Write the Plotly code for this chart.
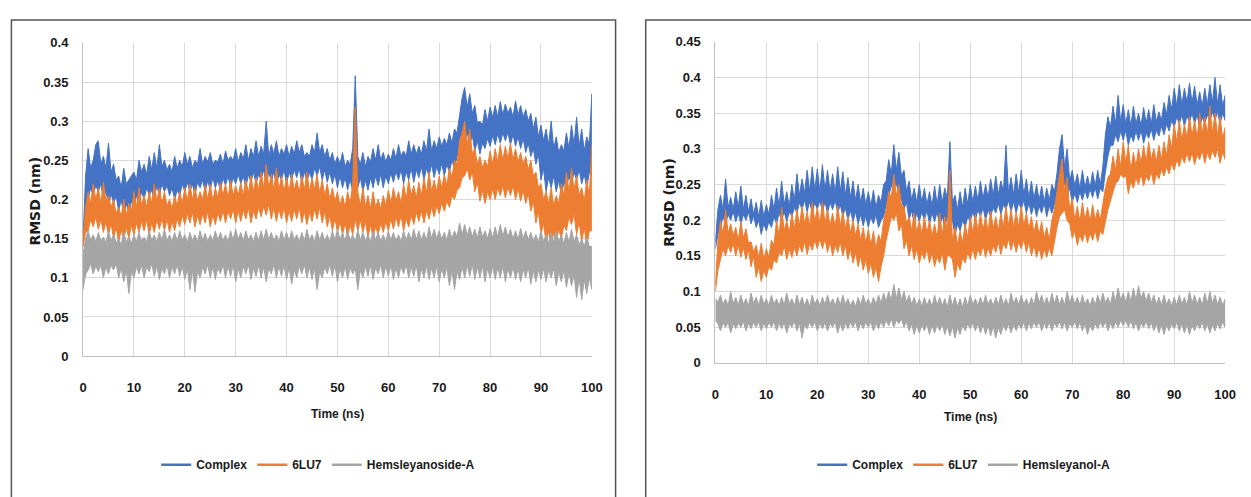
import plotly.graph_objects as go

W, H = 1251, 497

# ---------------- DATA ----------------
# Upper / lower edge of each RMSD trace, every 0.5 ns (values in pm = 0.001 nm)
time_ns = [i * 0.5 for i in range(201)]

left_complex_hi = [
    150,230,265,240,250,270,275,245,255,240,272,235,245,225,230,215,240,220,225,230,
    235,225,250,235,245,232,255,238,260,240,270,242,250,238,245,235,255,240,250,242,
    260,245,255,240,250,245,265,245,255,248,260,245,250,248,258,245,262,250,255,250,
    265,248,260,252,270,250,265,255,275,255,268,258,300,255,270,258,275,255,265,258,
    270,255,268,258,275,260,270,255,260,255,270,260,285,260,270,255,265,250,260,245,
    255,245,260,242,250,245,265,358,255,245,260,242,255,248,265,250,270,250,260,248,
    258,250,265,252,270,255,262,255,275,258,270,258,268,258,275,262,290,262,275,265,
    280,268,278,270,285,272,290,285,310,330,343,318,335,310,320,298,300,295,315,300,
    318,305,320,305,325,308,322,310,318,305,326,308,320,305,315,300,310,290,305,280,
    295,275,290,270,300,265,280,260,270,262,285,265,295,270,305,268,290,262,280,270,
    335]
left_complex_lo = [
    140,185,200,215,205,218,210,220,200,212,190,208,195,205,185,200,180,195,182,198,
    190,205,195,210,200,215,205,212,200,218,205,220,210,218,205,215,200,212,205,220,
    210,222,210,220,205,222,215,225,210,224,212,228,215,225,210,228,218,230,215,228,
    220,232,220,230,215,232,222,235,220,232,225,238,220,235,222,236,218,232,225,238,
    220,235,225,238,228,240,220,236,222,235,225,240,230,242,225,238,222,235,220,232,
    215,230,215,228,212,226,210,225,215,228,210,225,212,228,215,230,218,232,215,230,
    220,234,222,236,225,238,220,236,225,240,222,238,228,242,225,240,230,245,228,242,
    232,246,230,245,235,250,240,255,260,272,275,285,270,282,262,275,258,272,265,278,
    268,282,270,284,272,285,275,286,270,283,268,280,265,278,260,272,255,265,245,258,
    225,240,210,228,215,230,210,225,205,222,215,230,220,235,225,238,220,232,215,235,
    230]
left_6lu7_hi = [
    150,190,210,195,220,200,215,195,222,198,205,190,200,182,190,178,200,180,195,185,
    210,190,215,192,205,190,210,195,220,198,215,195,210,192,200,188,205,192,210,195,
    215,198,220,200,215,198,210,200,218,200,220,198,215,202,222,205,220,202,225,205,
    218,205,222,205,225,208,230,210,228,212,235,215,245,215,232,212,240,212,230,210,
    228,210,232,212,225,210,230,212,235,210,228,212,232,208,225,205,220,200,215,198,
    210,192,205,190,210,195,220,318,210,192,215,190,205,188,210,190,200,188,205,192,
    212,195,215,198,210,195,220,200,225,205,218,202,222,205,228,208,235,210,225,210,
    230,215,232,218,240,228,250,245,275,285,300,270,290,258,265,245,255,240,250,242,
    262,245,265,248,270,250,268,252,272,250,265,248,260,245,255,238,250,230,235,215,
    220,200,210,195,215,192,205,195,220,205,235,210,240,212,230,205,215,198,225,205,
    270]
left_6lu7_lo = [
    140,158,160,175,165,178,162,175,158,172,155,170,150,165,145,162,148,165,150,168,
    155,170,158,172,160,175,155,170,158,174,162,176,160,175,158,172,160,176,165,180,
    168,182,170,184,165,180,168,182,170,185,165,180,168,183,172,186,170,185,175,188,
    170,186,172,187,175,190,170,186,175,190,178,192,180,194,175,190,172,188,175,190,
    170,186,172,188,175,190,170,185,168,184,172,188,175,190,170,185,165,180,160,176,
    158,172,155,170,152,168,155,175,160,174,158,172,152,168,150,166,155,170,158,172,
    160,175,162,178,165,180,160,176,165,180,168,184,172,186,170,186,175,190,178,192,
    182,196,185,198,190,205,200,212,215,228,230,240,225,235,210,222,198,212,195,210,
    200,214,200,215,205,218,202,216,205,218,200,214,198,212,195,208,185,198,170,185,
    155,170,145,160,140,158,145,162,150,168,160,178,168,182,155,172,145,165,140,160,
    160]
left_ligand_hi = [
    130,150,160,148,155,146,158,147,152,145,160,147,155,145,150,142,158,146,152,144,
    155,146,158,147,152,146,160,148,155,146,158,148,162,147,155,146,158,147,160,148,
    155,145,158,147,155,146,160,148,157,146,155,147,160,148,158,147,155,146,160,148,
    162,149,158,147,160,148,155,146,158,147,160,148,162,149,158,147,155,146,160,148,
    158,147,160,148,155,146,158,147,162,148,155,146,160,148,158,147,155,146,160,148,
    162,149,158,147,160,148,155,146,162,148,158,147,155,146,160,148,158,147,155,146,
    160,148,158,147,155,146,160,148,158,148,162,149,160,148,158,148,165,150,162,150,
    160,149,158,148,162,150,160,152,170,155,168,154,165,152,162,151,165,152,160,150,
    163,151,165,152,168,153,165,152,162,150,160,149,163,150,160,148,158,147,155,145,
    160,146,155,144,158,145,160,146,155,143,158,145,162,146,155,142,150,140,152,140,
    140]
left_ligand_lo = [
    85,105,110,118,105,115,108,116,100,114,105,116,110,118,100,112,95,110,80,108,
    100,114,105,116,100,114,108,118,102,115,98,112,105,116,100,114,105,117,102,115,
    98,112,85,110,82,108,100,114,105,117,100,114,98,113,105,117,100,115,102,116,
    95,112,100,115,105,117,98,113,102,116,100,114,95,112,105,117,100,115,102,116,
    98,113,92,110,100,115,105,117,100,114,98,112,85,108,100,114,105,117,102,116,
    95,112,100,115,98,113,105,112,85,110,100,115,102,116,98,113,105,117,100,115,
    102,116,98,113,100,115,105,117,100,114,102,116,95,112,100,115,98,113,100,115,
    95,112,100,114,90,110,85,108,98,114,100,116,102,117,98,114,100,115,95,112,
    100,115,98,113,100,115,95,112,100,114,98,112,95,111,100,114,92,110,95,111,
    98,112,95,110,100,112,90,108,95,110,88,106,90,104,75,100,72,98,80,100,
    85]

right_complex_hi = [
    170,215,235,215,258,218,232,215,240,218,248,215,235,212,230,208,225,205,228,205,
    222,208,235,215,245,220,255,222,240,220,250,228,265,235,258,238,270,240,275,242,
    272,240,278,242,270,240,265,238,275,240,268,235,260,232,255,228,250,225,245,222,
    240,220,242,218,235,225,250,255,285,265,306,270,295,262,270,240,255,228,245,225,
    250,225,245,222,240,220,248,222,250,225,245,230,310,225,235,215,240,218,245,222,
    250,225,248,228,255,230,250,232,258,235,262,236,255,240,305,238,260,236,265,238,
    270,235,258,232,255,230,250,228,248,226,245,228,250,240,265,300,320,275,300,255,
    270,248,265,245,270,246,262,245,268,248,270,250,275,320,345,330,360,335,375,338,
    362,335,355,332,360,335,350,332,358,336,355,335,362,338,352,340,365,348,375,355,
    385,360,390,362,385,365,392,365,388,362,380,360,385,362,390,365,400,362,390,360,
    375]
right_complex_lo = [
    160,180,190,205,195,208,200,212,198,210,195,208,200,212,195,206,190,200,180,195,
    185,198,190,205,195,210,200,212,198,212,205,218,210,225,215,228,212,226,210,225,
    215,228,212,226,210,225,215,228,210,222,205,218,200,214,198,212,195,208,192,206,
    190,205,195,208,190,200,205,222,235,248,245,252,235,230,215,225,200,214,195,210,
    198,212,200,214,195,210,198,212,192,206,190,205,200,200,178,195,185,200,190,205,
    198,212,200,215,205,218,200,215,205,218,210,224,208,222,215,228,212,226,210,225,
    215,228,210,224,208,222,205,220,210,224,205,220,210,222,230,245,250,252,235,245,
    225,238,225,240,228,242,230,244,232,246,230,245,240,268,290,305,305,320,310,325,
    312,326,305,320,310,325,312,326,308,322,315,328,312,326,318,332,320,335,325,340,
    330,345,335,348,332,346,338,350,335,348,330,345,335,348,338,352,340,352,335,350,
    340]
right_6lu7_hi = [
    110,170,200,180,215,182,195,178,190,172,198,175,188,168,170,155,165,148,168,145,
    160,148,172,165,200,178,218,185,200,182,210,188,215,192,220,195,212,192,225,198,
    218,195,226,196,215,192,210,190,220,192,212,188,205,182,200,178,195,172,190,168,
    188,165,185,160,180,170,200,215,240,232,264,235,250,220,220,195,205,185,210,182,
    200,180,205,182,200,178,195,175,210,180,205,185,270,170,190,165,185,168,195,175,
    205,182,208,185,210,186,205,184,213,188,205,185,210,190,220,192,215,190,212,190,
    220,192,210,188,205,182,200,180,198,175,190,172,200,215,240,265,286,240,260,215,
    230,200,220,198,225,200,218,198,222,200,215,200,225,245,260,265,290,270,300,275,
    310,280,305,270,295,275,300,280,305,282,310,285,300,282,305,285,310,290,320,300,
    335,310,340,312,335,315,345,318,340,315,350,320,345,320,360,322,350,318,345,315,
    330]
right_6lu7_lo = [
    100,130,145,160,150,165,155,168,150,165,148,162,145,158,135,150,120,135,114,130,
    120,135,130,145,140,155,150,165,145,160,148,162,150,165,155,170,152,168,158,172,
    160,175,160,174,155,170,150,166,155,170,150,165,145,160,140,155,135,150,130,145,
    125,140,120,135,114,135,150,172,190,205,200,210,185,195,160,172,150,165,145,160,
    140,155,145,160,140,155,135,150,140,155,130,150,150,145,120,140,130,148,140,155,
    145,160,145,160,150,165,148,162,150,165,155,170,152,168,160,174,158,172,155,170,
    160,174,155,170,150,165,148,162,145,160,148,162,150,170,190,205,210,215,200,195,
    175,185,165,180,170,184,168,182,172,186,170,185,180,198,215,230,240,252,255,265,
    260,262,237,255,245,260,250,265,248,262,255,268,250,265,258,272,262,275,265,280,
    270,285,275,290,280,294,282,295,278,292,285,298,280,295,285,298,288,300,280,296,
    285]
right_ligand_hi = [
    90,85,95,82,90,80,100,83,92,81,95,82,90,80,98,83,92,81,95,82,
    90,80,95,82,90,80,92,81,98,83,90,80,95,82,92,80,90,79,95,82,
    90,80,92,81,95,82,90,80,92,81,95,82,90,80,88,79,92,81,95,82,
    90,80,92,82,95,84,98,86,100,88,110,90,105,88,100,85,95,82,92,80,
    90,79,92,80,90,79,95,81,92,80,90,78,95,80,92,79,90,78,92,80,
    95,82,90,80,92,81,95,82,90,80,92,81,95,82,90,80,98,83,92,81,
    95,82,90,80,92,81,100,84,95,82,92,81,98,83,95,82,92,81,100,84,
    95,82,92,81,95,82,90,80,92,81,95,83,98,84,92,82,100,86,105,88,
    98,85,100,86,105,88,108,90,100,86,98,84,95,82,92,81,95,82,90,80,
    92,81,95,82,92,81,100,84,95,82,92,81,98,83,100,84,95,82,92,81,
    90]
right_ligand_lo = [
    60,55,45,56,50,57,42,55,48,56,50,58,45,56,48,57,50,58,45,56,
    48,57,50,58,45,56,48,57,42,55,50,58,45,56,35,54,48,57,50,58,
    45,56,48,57,45,56,50,58,42,55,45,56,48,57,50,58,45,56,48,57,
    50,58,45,56,48,58,50,60,52,62,50,60,55,62,50,58,45,55,40,53,
    42,54,45,55,40,53,42,54,45,55,40,52,38,51,35,50,40,53,45,55,
    48,56,45,55,42,54,40,53,38,52,35,50,40,53,45,55,42,54,45,55,
    48,57,45,56,48,57,50,58,45,56,48,57,45,56,50,58,48,57,45,56,
    50,58,48,57,45,55,40,53,45,55,48,57,50,58,45,56,48,58,50,60,
    52,60,50,59,48,57,45,56,50,58,48,57,45,55,42,54,40,53,45,55,
    48,57,45,55,42,54,40,53,45,55,48,57,45,55,42,54,45,55,48,57,
    50]

series_names_left = ["Complex", "6LU7", "Hemsleyanoside-A"]
series_names_right = ["Complex", "6LU7", "Hemsleyanol-A"]
colors = ["#4472C4", "#ED7D31", "#A5A5A5"]

x_tickvals = [0, 10, 20, 30, 40, 50, 60, 70, 80, 90, 100]
x_ticktext = ["0", "10", "20", "30", "40", "50", "60", "70", "80", "90", "100"]
yl_tickvals = [0, 0.05, 0.1, 0.15, 0.2, 0.25, 0.3, 0.35, 0.4]
yl_ticktext = ["0", "0.05", "0.1", "0.15", "0.2", "0.25", "0.3", "0.35", "0.4"]
yr_tickvals = [0, 0.05, 0.1, 0.15, 0.2, 0.25, 0.3, 0.35, 0.4, 0.45]
yr_ticktext = ["0", "0.05", "0.1", "0.15", "0.2", "0.25", "0.3", "0.35", "0.4", "0.45"]

for lst in (left_complex_hi, left_complex_lo, left_6lu7_hi, left_6lu7_lo, left_ligand_hi, left_ligand_lo,
            right_complex_hi, right_complex_lo, right_6lu7_hi, right_6lu7_lo, right_ligand_hi, right_ligand_lo):
    assert len(lst) == len(time_ns), len(lst)


def band_xy(t, hi_pm, lo_pm):
    # closed band: upper edge left->right, lower edge right->left; pm -> nm
    xs = list(t) + list(reversed(t))
    ys = [v / 1000 for v in hi_pm] + [v / 1000 for v in reversed(lo_pm)]
    return xs, ys


FONT = "Liberation Sans, Arial, sans-serif"
tick_font = dict(family=FONT, size=13, color="#1a1a1a", weight="bold")

fig = go.Figure()
left_sets = [(left_complex_hi, left_complex_lo), (left_6lu7_hi, left_6lu7_lo), (left_ligand_hi, left_ligand_lo)]
right_sets = [(right_complex_hi, right_complex_lo), (right_6lu7_hi, right_6lu7_lo), (right_ligand_hi, right_ligand_lo)]

for panel, names, sets, legend_id in (("1", series_names_left, left_sets, "legend"),
                                      ("2", series_names_right, right_sets, "legend2")):
    xa = "x" if panel == "1" else "x2"
    ya = "y" if panel == "1" else "y2"
    for name, (hi, lo), c in zip(names, sets, colors):
        xs, ys = band_xy(time_ns, hi, lo)
        fig.add_trace(go.Scatter(x=xs, y=ys, mode="lines", fill="toself", fillcolor=c,
                                 line=dict(color=c, width=1), name=name, showlegend=False,
                                 xaxis=xa, yaxis=ya, hoverinfo="skip"))
    for name, c in zip(names, colors):
        fig.add_trace(go.Scatter(x=[None], y=[None], mode="lines", name=name,
                                 line=dict(color=c, width=2.5), xaxis=xa, yaxis=ya, legend=legend_id))


def px_x(p):
    return p / W


def px_y(p):
    return 1 - p / H


axis_common = dict(showgrid=True, gridcolor="#D9D9D9", gridwidth=1, zeroline=False,
                   showline=True, linecolor="#BFBFBF", linewidth=1, ticks="",
                   tickfont=tick_font, fixedrange=True)

legend_font = dict(family=FONT, size=12, color="#1a1a1a", weight="bold")

fig.update_layout(
    width=W, height=H, margin=dict(l=0, r=0, t=0, b=0),
    paper_bgcolor="white", plot_bgcolor="white",
    xaxis=dict(domain=[px_x(80), px_x(595)], anchor="y", range=[0, 100],
               tickmode="array", tickvals=x_tickvals, ticktext=x_ticktext,
               ticklabelstandoff=19, **axis_common),
    yaxis=dict(domain=[px_y(360), px_y(37)], anchor="x", range=[0, 0.4],
               tickmode="array", tickvals=yl_tickvals, ticktext=yl_ticktext,
               ticklabelstandoff=11, **axis_common),
    xaxis2=dict(domain=[px_x(720), px_x(1236)], anchor="y2", range=[0, 100],
                tickmode="array", tickvals=x_tickvals, ticktext=x_ticktext,
                ticklabelstandoff=19, **axis_common),
    yaxis2=dict(domain=[px_y(367), px_y(36)], anchor="x2", range=[0, 0.45],
                tickmode="array", tickvals=yr_tickvals, ticktext=yr_ticktext,
                ticklabelstandoff=11, **axis_common),
    legend=dict(orientation="h", x=px_x(154), y=px_y(472), xanchor="left", yanchor="middle",
                font=legend_font, bgcolor="rgba(0,0,0,0)", itemwidth=30),
    legend2=dict(orientation="h", x=px_x(818), y=px_y(472), xanchor="left", yanchor="middle",
                 font=legend_font, bgcolor="rgba(0,0,0,0)", itemwidth=30),
    showlegend=True,
)

title_font = dict(family=FONT, size=12, color="#1a1a1a", weight="bold")
ytitle_font = dict(family="DejaVu Sans, Verdana, sans-serif", size=14, color="#1a1a1a", weight="bold")
fig.add_annotation(text="Time (ns)", x=px_x(338), y=px_y(420), xref="paper", yref="paper",
                   showarrow=False, font=title_font, xanchor="center", yanchor="middle")
fig.add_annotation(text="Time (ns)", x=px_x(978), y=px_y(423), xref="paper", yref="paper",
                   showarrow=False, font=title_font, xanchor="center", yanchor="middle")
fig.add_annotation(text="RMSD (nm)", x=px_x(31), y=px_y(200), xref="paper", yref="paper",
                   showarrow=False, font=ytitle_font, textangle=-90, xanchor="center", yanchor="middle")
fig.add_annotation(text="RMSD (nm)", x=px_x(673), y=px_y(201), xref="paper", yref="paper",
                   showarrow=False, font=ytitle_font, textangle=-90, xanchor="center", yanchor="middle")

# panel frames
fig.add_shape(type="rect", xref="paper", yref="paper", x0=px_x(7.5), x1=px_x(619), y0=-0.1, y1=px_y(13.5),
              line=dict(color="#555555", width=1.5), layer="below")
fig.add_shape(type="rect", xref="paper", yref="paper", x0=px_x(649.5), x1=1.1, y0=-0.1, y1=px_y(13.5),
              line=dict(color="#555555", width=1.5), layer="below")

fig.write_html("out.html")
